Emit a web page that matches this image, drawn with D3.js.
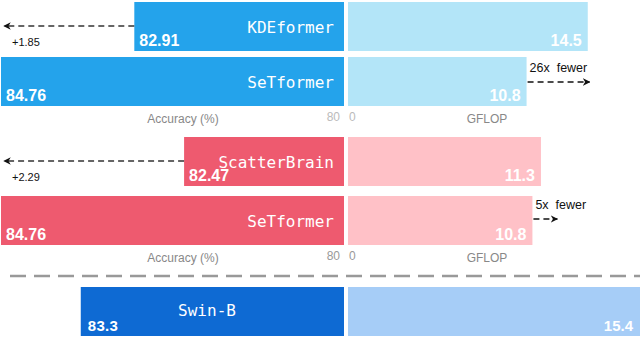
<!DOCTYPE html>
<html><head><meta charset="utf-8">
<script src="https://cdn.jsdelivr.net/npm/d3@7"></script>
<style>body{margin:0;background:#fff}svg{display:block}</style>
</head><body>
<script>
// ---- data ----
const panels = ["kde", "scatter", "swin"];
const modelNames = [["KDEformer", "SeTformer"], ["ScatterBrain", "SeTformer"], ["Swin-B"]];
const accuracy = [[82.91, 84.76], [82.47, 84.76], [83.3]];
const gflop = [[14.5, 10.8], [11.3, 10.8], [15.4]];
const accDomain = [[80, 84.76], [80.47, 84.76], [80, 84.3]];
const gflopDomain = [[0, 17.66], [0, 17.1], [0, 15.4]];
const accTickLabels = ["80", "80", null];
const gflopTickLabels = ["0", "0", null];
const axisTitles = ["Accuracy (%)", "GFLOP"];
const accGain = ["+1.85", "+2.29"];
const flopNote = ["26x  fewer", "5x  fewer"];

// ---- style ----
const W = 640, H = 339;
const leftColors = ["#24a3eb", "#ee5a6f", "#0e6ad3"];
const rightColors = ["#b3e5f8", "#ffc1c7", "#a6cdf7"];
const panelTop = [2, 137, 287];
const barSteps = [55, 59, 56];
const barH = 49;
const monoFont = "'DejaVu Sans Mono', monospace";
const sansFont = "'Liberation Sans', Arial, sans-serif";

const svg = d3.select("body").append("svg").attr("width", W).attr("height", H);
const defs = svg.append("defs");
defs.append("marker").attr("id", "ah").attr("viewBox", "0 0 10 10")
  .attr("refX", 9).attr("refY", 5).attr("markerWidth", 5).attr("markerHeight", 5)
  .attr("orient", "auto-start-reverse")
  .append("path").attr("d", "M0,0 L10,5 L0,10 L3,5 Z").attr("fill", "#111");

panels.forEach((p, i) => {
  const xl = d3.scaleLinear().domain(accDomain[i]).range([344, 1]);
  const xr = d3.scaleLinear().domain(gflopDomain[i]).range([348, 640]);
  const y = d3.scaleLinear().domain([0, 1]).range([panelTop[i], panelTop[i] + barSteps[i]]);
  const g = svg.append("g");
  const rows = modelNames[i].map((n, j) => ({name: n, acc: accuracy[i][j], fl: gflop[i][j], j}));
  const bigLabel = i < 2;

  g.selectAll(".lb").data(rows).join("rect")
    .attr("x", d => xl(d.acc)).attr("y", d => y(d.j))
    .attr("width", d => xl(accDomain[i][0]) - xl(d.acc)).attr("height", barH)
    .attr("fill", leftColors[i]);
  g.selectAll(".rb").data(rows).join("rect")
    .attr("x", xr(0)).attr("y", d => y(d.j))
    .attr("width", d => xr(d.fl) - xr(0)).attr("height", barH)
    .attr("fill", rightColors[i]);

  // model names
  g.selectAll(".nm").data(rows).join("text")
    .attr("x", d => bigLabel ? 334 : 207)
    .attr("y", d => y(d.j) + (bigLabel ? 31 : 29))
    .attr("text-anchor", bigLabel ? "end" : "middle")
    .attr("font-family", monoFont).attr("font-size", 16).attr("fill", "#fff")
    .text(d => d.name);
  // accuracy values
  g.selectAll(".av").data(rows).join("text")
    .attr("x", d => xl(d.acc) + (bigLabel ? 5 : 7))
    .attr("y", d => y(d.j) + 44)
    .attr("font-family", sansFont).attr("font-weight", "bold")
    .attr("font-size", bigLabel ? 16 : 15).attr("fill", "#fff")
    .attr("textLength", bigLabel ? null : 30)
    .text(d => d.acc);
  // gflop values
  g.selectAll(".fv").data(rows).join("text")
    .attr("x", d => xr(d.fl) - (bigLabel ? 6 : 7))
    .attr("y", d => y(d.j) + 44)
    .attr("text-anchor", "end")
    .attr("font-family", sansFont).attr("font-weight", "bold")
    .attr("font-size", bigLabel ? 16 : 15).attr("fill", "#fff")
    .text(d => d.fl);

  if (i < 2) {
    const axY = y(1) + barH + 17;
    g.append("text").attr("x", 183).attr("y", axY).attr("text-anchor", "middle")
      .attr("font-family", sansFont).attr("font-size", 12).attr("fill", "#888").text(axisTitles[0]);
    g.append("text").attr("x", 487).attr("y", axY).attr("text-anchor", "middle")
      .attr("font-family", sansFont).attr("font-size", 12).attr("fill", "#888").text(axisTitles[1]);
    g.append("text").attr("x", xl(accDomain[i][0]) - 4).attr("y", axY - 2).attr("text-anchor", "end")
      .attr("font-family", sansFont).attr("font-size", 12).attr("fill", i === 0 ? "#bbb" : "#999").text(accTickLabels[i]);
    g.append("text").attr("x", xr(0) + 1).attr("y", axY - 2)
      .attr("font-family", sansFont).attr("font-size", 12).attr("fill", i === 0 ? "#bbb" : "#999").text(gflopTickLabels[i]);

    // accuracy gain arrow
    const ay = y(0) + 24;
    g.append("line").attr("x1", xl(rows[0].acc)).attr("x2", 4).attr("y1", ay).attr("y2", ay)
      .attr("stroke", "#333").attr("stroke-width", 1.5).attr("stroke-dasharray", "6,4")
      .attr("marker-end", "url(#ah)");
    g.append("text").attr("x", 12).attr("y", ay + 20)
      .attr("font-family", sansFont).attr("font-size", 11).attr("fill", "#111").text(accGain[i]);

    // flop note arrow
    const fy = y(1) + (i === 0 ? 25 : 23);
    const len = i === 0 ? 63 : 25;
    g.append("line").attr("x1", xr(rows[1].fl) + 1).attr("x2", xr(rows[1].fl) + len).attr("y1", fy).attr("y2", fy)
      .attr("stroke", "#111").attr("stroke-width", 1.5).attr("stroke-dasharray", "6,4")
      .attr("marker-end", "url(#ah)");
    g.append("text").attr("x", xr(rows[1].fl) + 3).attr("y", fy - 10)
      .attr("font-family", sansFont).attr("font-size", 12.5).attr("fill", "#111")
      .attr("xml:space", "preserve").style("white-space", "pre").text(flopNote[i]);
  }
});

// separator
svg.append("line").attr("x1", 10).attr("x2", 640).attr("y1", 276).attr("y2", 276)
  .attr("stroke", "#999").attr("stroke-width", 2.5).attr("stroke-dasharray", "16,8");
</script>
</body></html>
